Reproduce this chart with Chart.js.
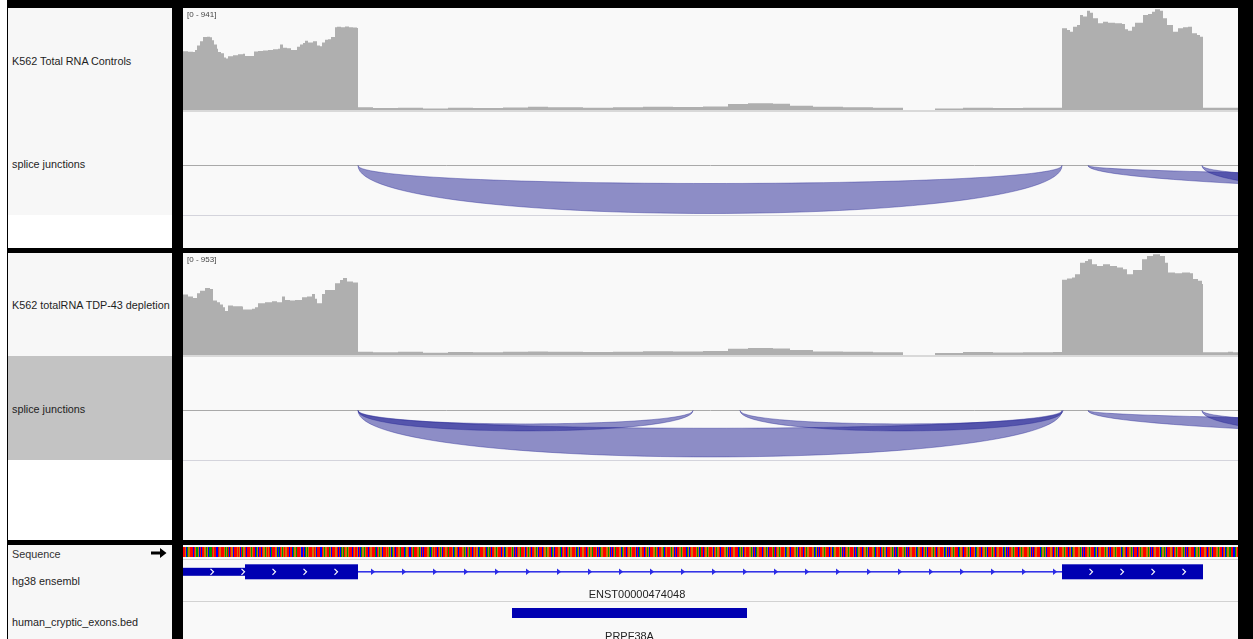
<!DOCTYPE html>
<html>
<head>
<meta charset="utf-8">
<title>IGV view – PRPF38A</title>
<script src="https://cdn.jsdelivr.net/npm/chart.js@4.4.1/dist/chart.umd.min.js"></script>
<style>
  html, body { margin:0; padding:0; width:1253px; height:639px; overflow:hidden; background:#ffffff; font-family:"Liberation Sans", Arial, sans-serif; }
  .abs { position:absolute; }
  .lbl { position:absolute; font-size:10.8px; line-height:12px; color:#1e1e1e; white-space:nowrap; }
  .rng { position:absolute; font-size:8px; line-height:10px; color:#444; white-space:nowrap; }
  canvas { position:absolute; display:block; }
</style>
</head>
<body>
<div class="abs" style="left:7px;top:0;width:1246px;height:639px;background:#000"></div>
<!-- name panels -->
<div class="abs" style="left:8px;top:8px;width:164px;height:207px;background:#f7f7f7"></div>
<div class="abs" style="left:8px;top:215px;width:164px;height:33px;background:#ffffff"></div>
<div class="abs" style="left:8px;top:253px;width:164px;height:103px;background:#f7f7f7"></div>
<div class="abs" style="left:8px;top:356px;width:164px;height:104px;background:#c3c3c3"></div>
<div class="abs" style="left:8px;top:460px;width:164px;height:80px;background:#ffffff"></div>
<div class="abs" style="left:8px;top:545px;width:164px;height:94px;background:#f7f7f7"></div>
<!-- data panels -->
<div class="abs" style="left:183px;top:8px;width:1055px;height:240px;background:#f9f9f9"></div>
<div class="abs" style="left:183px;top:253px;width:1055px;height:287px;background:#f9f9f9"></div>
<div class="abs" style="left:183px;top:545px;width:1055px;height:94px;background:#f9f9f9"></div>
<!-- separators -->
<div class="abs" style="left:183px;top:110px;width:1055px;height:2px;background:#d9d9d9"></div>
<div class="abs" style="left:183px;top:215px;width:1055px;height:1px;background:#d4d4dc"></div>
<div class="abs" style="left:183px;top:355px;width:1055px;height:2px;background:#d9d9d9"></div>
<div class="abs" style="left:183px;top:460px;width:1055px;height:1px;background:#d4d4dc"></div>
<div class="abs" style="left:183px;top:559px;width:1055px;height:1px;background:#d2d2d2"></div>
<div class="abs" style="left:183px;top:601px;width:1055px;height:1px;background:#d2d2d2"></div>

<!-- track names -->
<div class="lbl" style="left:12px;top:55px">K562 Total RNA Controls</div>
<div class="lbl" style="left:12px;top:158px">splice junctions</div>
<div class="lbl" style="left:12px;top:299px">K562 totalRNA TDP-43 depletion</div>
<div class="lbl" style="left:12px;top:403px">splice junctions</div>
<div class="lbl" style="left:12px;top:548px;color:#333">Sequence</div>
<svg class="abs" style="left:151px;top:548px" width="16" height="10" viewBox="0 0 16 10"><path d="M0 3.5 H9 V0 L15.5 5 L9 10 V6.5 H0 Z" fill="#000"/></svg>
<div class="lbl" style="left:12px;top:575px">hg38 ensembl</div>
<div class="lbl" style="left:12px;top:616px">human_cryptic_exons.bed</div>

<canvas id="cov1" width="1055" height="101" style="left:183px;top:9px"></canvas>
<canvas id="junc1" width="1055" height="103" style="left:183px;top:112px"></canvas>
<canvas id="cov2" width="1055" height="101" style="left:183px;top:254px"></canvas>
<canvas id="junc2" width="1055" height="103" style="left:183px;top:357px"></canvas>
<canvas id="feat" width="1055" height="94" style="left:183px;top:545px"></canvas>

<div class="rng" id="rng1" style="left:187px;top:10px"></div>
<div class="rng" id="rng2" style="left:187px;top:255px"></div>

<script>
// ---------------- data (positions in bp relative to left edge of view) ----------------
const viewStart = 0;
const viewEnd = 1055;

const cov1Max = 941;
const cov1Pos = [0,5,10,12,14,17,20,24,27,29,31,34,35,38,41,43,45,50,55,60,62,66,70,71,75,80,85,90,95,97,100,104,108,114,117,120,122,125,130,134,137,139,142,145,148,152,154,158,162,166,170,174,
  175,190,215,240,265,290,320,345,365,400,430,460,490,520,545,565,590,607,630,660,690,720,752,780,810,840,870,
  879,884,887,890,894,897,900,904,907,910,915,920,925,932,939,942,945,949,952,957,960,965,969,972,977,980,984,990,995,1000,1005,1009,1014,1017,1020,1055];
const cov1Val = [548,543,540,559,600,640,680,683,678,650,610,570,540,528,490,480,500,510,520,525,503,503,503,545,550,555,560,565,570,610,580,575,560,590,610,625,645,630,640,600,595,630,655,660,680,770,776,770,778,772,768,765,
  25,18,22,15,22,18,24,30,26,22,25,30,28,32,55,62,58,40,30,26,22,0,15,22,18,20,22,
  761,746,730,776,792,885,870,925,907,855,808,823,814,808,801,752,739,776,814,814,885,895,916,938,925,855,792,730,761,771,776,715,699,683,20,20];

const cov2Max = 953;
const cov2Pos = [0,5,10,14,17,22,27,30,34,37,40,42,45,50,59,60,69,72,75,82,89,94,99,102,107,112,119,124,129,132,134,139,142,149,152,157,160,164,170,174,
  175,190,215,240,265,290,320,345,365,400,430,460,490,520,545,565,590,607,630,660,690,720,752,780,810,840,870,
  879,884,889,892,897,902,905,909,914,920,927,934,940,944,950,959,964,970,977,982,985,992,999,1007,1010,1015,1019,1020,1045,1050,1055];
const cov2Val = [570,551,539,582,607,632,623,514,498,476,451,414,467,461,458,430,436,451,488,498,507,498,551,520,514,520,545,551,576,530,488,576,614,614,676,707,726,694,685,685,
  31,26,30,22,28,25,30,34,30,28,31,36,33,38,60,66,62,46,34,30,26,0,18,28,24,26,28,
  710,722,731,763,871,887,903,856,840,856,840,825,810,763,803,903,934,950,934,871,778,772,778,772,716,700,670,25,31,25,25];

// splice junctions: start, end (bp), supporting reads
const junc1Start = [175, 905, 1019];
const junc1End   = [879, 5000, 1700];
const junc1Reads = [300, 270, 160];

const junc2Start = [175, 175, 557, 905, 1019];
const junc2End   = [879, 510, 880, 5000, 1700];
const junc2Reads = [287, 70, 70, 270, 160];

// hg38 ensembl transcript
const geneName = 'ENST00000474048';
const geneStrand = '+';
const exonStarts = [-112, 879];
const exonEnds   = [175, 1020];
const cdsStart = 62;
const cdsEnd = 1020;

// human_cryptic_exons.bed
const bedName = 'PRPF38A';
const bedStart = 329;
const bedEnd = 564;

// reference sequence across the view
const seqStart = 0;
const sequence = [
 'TTGCAGGTTTCTGAAGCTCTTGGAGCAAATGTTCCTGGTTTGAGATCTGGCTTTGTGCTA',
 'GGTCTTTGAGTTCAGCTTCTGGAGTGTCATTTGGCACTGAGTGGTTCTTCAGGATTTGCC',
 'TCAGAGTTTGGTGCTTTCCTGAGGTTAGCTTTGGTCTCAGATGGAGTTTCTGTTGCTCAG',
 'GAGTTCTGGTTTACTGAGGCTTTGTGAGCAGTCTTGGATTTCAGGTCCTGATTTGGAGCT',
 'CTTTGGACAGTGTTCTGAGCTTGGTATTTGCAGGTCTTTGGAGCTGATTCTGTGGCATTT',
 'GGTCAGATCTTGGAGTTTCTGCAGGTTTGAGCTCTGGATTTGCTGAGTCTTGGAGCTTTC',
 'TGGAGGTTCAGCTTTGGACTGTTCTGAGGTTTGCAGCTTGGTTCTGAGGATTTGCTCAGG',
 'TTTGGAGCTCTGATTTGGCAGTTCTGGAGTTTGCTCAGGTTCTGAGCTTTGGAGTCTTGG',
 'ACTGTTTGAGGCTCTTGGAGTTTCAGCTGGTTTGAGCATTCTGGAGTTTGCTGAGGTCTT',
 'TGGAGCTCTTGGTTTCAGAGCTGTTTGGAGCTCAGGTTTCTGGAGCTTTGATCTGGAGTT',
 'TGCAGGTCTTTGGAGCTGTTCTGAGGTTTGGCAGCTCTTGGAGTTTCTGCAGGTTTGAGC',
 'TCTGGAGTTTGCTCAGGTTCTGGAGCTTTGGACTGTTCTGAGGCTTTGGAGCTCAGTTTG',
 'GAGCTCTGGTTTGCAGGTTCTGAGCTTTGGAGTCTGGTTTGCAGCTCTGGAGTTTCAGGT',
 'CTTGGAGCTTTGCAGGTTCTGGAGCTTTGAGTCTGGTTTGCAGCTCTTGGAGTTTCTGAG',
 'GTTTGGAGCTCTGGTTTCAGGAGCTTTGGTCTGAGCTTTGGAGTTCTGCAGGTTTGGAGC',
 'TCTTGGAGTTTCAGCTGGTTTGAGGCTCTTGGAGTTTGCAGGTCTTGGAGCTTTCTGAGG',
 'TTTGGAGCTCTGGTTTGCAGGAGCTTTGGTCTGAGTTTGGAGCTCTGGTTTCAGGAGCTT',
 'TGGTCTGAGCTTTGGAGTTCTGCAGGAATTCCAGTTTGGACCTTAAGGTCTTGGAGATTC'
].join('');

// ---------------- rendering ----------------
document.getElementById('rng1').textContent = '[0 - ' + cov1Max + ']';
document.getElementById('rng2').textContent = '[0 - ' + cov2Max + ']';

const baseOpts = {
  responsive: false, animation: false, devicePixelRatio: 1,
  layout: { padding: 0 },
  plugins: { legend: { display: false }, tooltip: { enabled: false } },
  events: []
};

function covChart(id, pos, val, max) {
  return new Chart(document.getElementById(id), {
    type: 'line',
    data: { datasets: [{
      data: pos.map((p, i) => ({ x: p, y: val[i] })),
      stepped: true, fill: 'origin',
      backgroundColor: '#afafaf', borderColor: 'rgba(0,0,0,0)', borderWidth: 0,
      pointRadius: 0
    }] },
    options: Object.assign({}, baseOpts, {
      scales: {
        x: { type: 'linear', min: viewStart, max: viewEnd, display: false },
        y: { type: 'linear', min: 0, max: max, display: false }
      }
    })
  });
}

const ARC_BASE = 120, ARC_OUTER = 1.2, ARC_INNER = 0.2;
function arcPlugin(starts, ends, reads) {
  return {
    id: 'junctionArcs',
    afterDatasetsDraw(chart) {
      const { ctx, chartArea, scales: { x, y } } = chart;
      const y0 = y.getPixelForValue(0);
      ctx.save();
      ctx.strokeStyle = '#a9a9a9'; ctx.lineWidth = 1;
      ctx.beginPath(); ctx.moveTo(chartArea.left, Math.round(y0) - 0.5); ctx.lineTo(chartArea.right, Math.round(y0) - 0.5); ctx.stroke();
      ctx.beginPath(); ctx.rect(chartArea.left, chartArea.top, chartArea.width, chartArea.height); ctx.clip();
      for (let i = 0; i < starts.length; i++) {
        const xs = x.getPixelForValue(starts[i]), xe = x.getPixelForValue(ends[i]);
        const outer = y.getPixelForValue(ARC_BASE + ARC_OUTER * reads[i]);
        const inner = y.getPixelForValue(ARC_BASE + ARC_INNER * reads[i]);
        const co = y0 + (outer - y0) / 0.75, ci = y0 + (inner - y0) / 0.75;
        ctx.beginPath();
        ctx.moveTo(xs, y0);
        ctx.bezierCurveTo(xs, co, xe, co, xe, y0);
        ctx.bezierCurveTo(xe, ci, xs, ci, xs, y0);
        ctx.closePath();
        ctx.fillStyle = 'rgba(20,20,140,0.47)';
        ctx.fill();
        ctx.strokeStyle = 'rgba(40,40,150,0.5)'; ctx.lineWidth = 0.8;
        ctx.stroke();
      }
      ctx.restore();
    }
  };
}

function juncChart(id, starts, ends, reads) {
  return new Chart(document.getElementById(id), {
    type: 'scatter',
    data: { datasets: [{ data: [] }] },
    options: Object.assign({}, baseOpts, {
      scales: {
        x: { type: 'linear', min: viewStart, max: viewEnd, display: false },
        y: { type: 'linear', min: -535, max: 495, reverse: true, display: false }
      }
    }),
    plugins: [arcPlugin(starts, ends, reads)]
  });
}

const baseColors = { A: 'rgb(0,150,0)', C: 'rgb(0,0,255)', G: 'rgb(209,113,5)', T: 'rgb(255,0,0)' };
const featurePlugin = {
  id: 'features',
  afterDatasetsDraw(chart) {
    const { ctx, chartArea, scales: { x, y } } = chart;
    const L = chartArea.left, R = chartArea.right;
    ctx.save();
    ctx.beginPath(); ctx.rect(chartArea.left, chartArea.top, chartArea.width, chartArea.height); ctx.clip();
    // sequence
    const sTop = y.getPixelForValue(2), sBot = y.getPixelForValue(12);
    for (let i = 0; i < sequence.length; i++) {
      const a = x.getPixelForValue(seqStart + i), b = x.getPixelForValue(seqStart + i + 1);
      if (b < L || a > R) continue;
      ctx.fillStyle = baseColors[sequence[i]];
      ctx.fillRect(a, sTop, b - a, sBot - sTop);
    }
    // gene
    const blue = '#0000b2';
    const gc = y.getPixelForValue(26.8);
    const thickH = 15, thinH = 8;
    // intron lines + arrows
    for (let k = 0; k < exonStarts.length - 1; k++) {
      const a = x.getPixelForValue(exonEnds[k]), b = x.getPixelForValue(exonStarts[k + 1]);
      ctx.fillStyle = '#2b2be6';
      ctx.fillRect(a, gc - 0.75, b - a, 1.5);
      for (let px = a + 15; px < b - 4; px += 31) {
        ctx.beginPath();
        ctx.moveTo(px - 2, gc - 3.2); ctx.lineTo(px + 2.2, gc); ctx.lineTo(px - 2, gc + 3.2); ctx.closePath();
        ctx.fill();
      }
    }
    for (let k = 0; k < exonStarts.length; k++) {
      const s = exonStarts[k], e = exonEnds[k];
      const segs = [];
      if (s < cdsStart) segs.push([s, Math.min(e, cdsStart), thinH]);
      if (e > cdsStart && s < cdsEnd) segs.push([Math.max(s, cdsStart), Math.min(e, cdsEnd), thickH]);
      if (e > cdsEnd) segs.push([Math.max(s, cdsEnd), e, thinH]);
      ctx.fillStyle = blue;
      segs.forEach(([a0, b0, h]) => {
        const a = x.getPixelForValue(a0), b = x.getPixelForValue(b0);
        ctx.fillRect(a, gc - h / 2, b - a, h);
      });
      const va = Math.max(L, x.getPixelForValue(s)), vb = Math.min(R, x.getPixelForValue(e));
      ctx.strokeStyle = '#ffffff'; ctx.lineWidth = 1.2;
      for (let px = va + 29; px < vb - 6; px += 31) {
        ctx.beginPath();
        if (geneStrand === '+') { ctx.moveTo(px - 1.5, gc - 3); ctx.lineTo(px + 1.5, gc); ctx.lineTo(px - 1.5, gc + 3); }
        else { ctx.moveTo(px + 1.5, gc - 3); ctx.lineTo(px - 1.5, gc); ctx.lineTo(px + 1.5, gc + 3); }
        ctx.stroke();
      }
    }
    ctx.fillStyle = '#222';
    ctx.font = '11px "Liberation Sans", Arial, sans-serif';
    ctx.textAlign = 'center'; ctx.textBaseline = 'alphabetic';
    const gMid = x.getPixelForValue((exonStarts[0] + exonEnds[exonEnds.length - 1]) / 2);
    ctx.fillText(geneName, gMid, y.getPixelForValue(52.7));
    // bed feature
    const ba = x.getPixelForValue(bedStart), bb = x.getPixelForValue(bedEnd);
    ctx.fillStyle = blue;
    ctx.fillRect(ba, y.getPixelForValue(63), bb - ba, y.getPixelForValue(73) - y.getPixelForValue(63));
    ctx.fillStyle = '#222';
    ctx.fillText(bedName, (ba + bb) / 2, y.getPixelForValue(94.5));
    ctx.restore();
  }
};

covChart('cov1', cov1Pos, cov1Val, cov1Max);
covChart('cov2', cov2Pos, cov2Val, cov2Max);
juncChart('junc1', junc1Start, junc1End, junc1Reads);
juncChart('junc2', junc2Start, junc2End, junc2Reads);

new Chart(document.getElementById('feat'), {
  type: 'scatter',
  data: { datasets: [{ data: [] }] },
  options: Object.assign({}, baseOpts, {
    scales: {
      x: { type: 'linear', min: viewStart, max: viewEnd, display: false },
      y: { type: 'linear', min: 0, max: 94, reverse: true, display: false }
    }
  }),
  plugins: [featurePlugin]
});
</script>
</body>
</html>
